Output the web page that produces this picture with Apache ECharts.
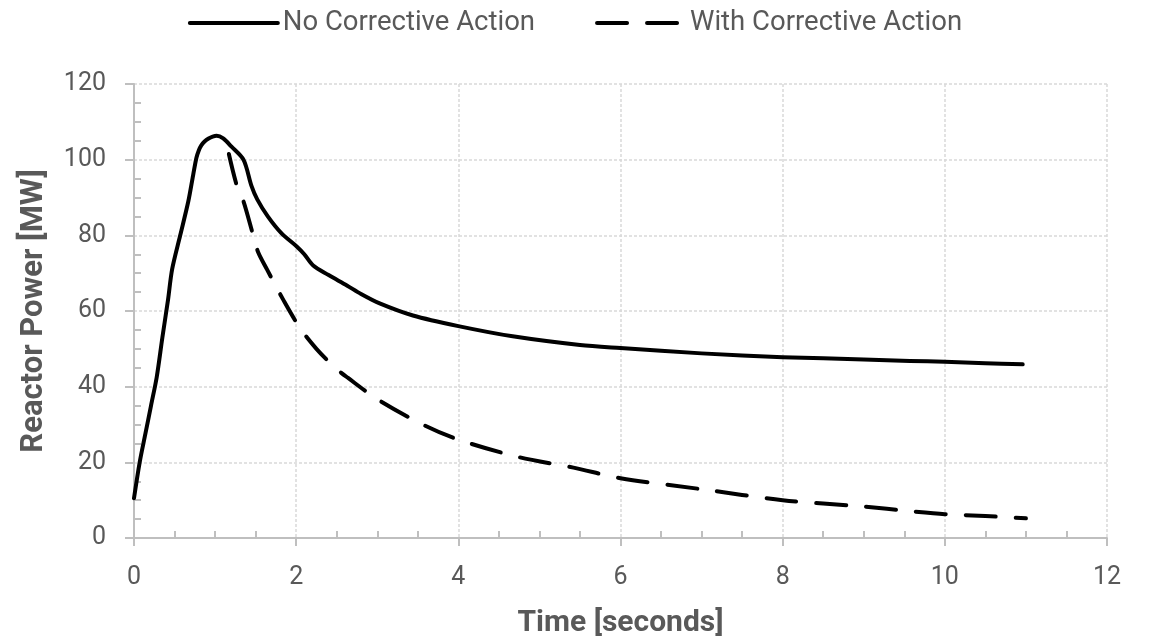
<!DOCTYPE html>
<html>
<head>
<meta charset="utf-8">
<script src="https://cdn.jsdelivr.net/npm/echarts@6/dist/echarts.min.js"></script>
<style>html,body{margin:0;padding:0;background:#fff}#c{width:1150px;height:643px}</style>
</head>
<body>
<div id="c"></div>
<script>
// Data
const seriesNames = ['No Corrective Action', 'With Corrective Action'];
const timeNo = [0, 0.07, 0.14, 0.21, 0.28, 0.35, 0.42, 0.47, 0.57, 0.67, 0.73, 0.77, 0.8, 0.83, 0.87, 0.92, 0.97, 1.02, 1.1, 1.2, 1.35, 1.45, 1.52, 1.65, 1.82, 2.01, 2.1, 2.21, 2.4, 2.63, 2.8, 3.03, 3.44, 4, 4.67, 5.5, 6, 7, 8, 9, 9.57, 10, 10.5, 10.96];
const powerNo = [10.5, 20, 27.5, 35, 42.5, 53, 63, 71, 80, 89, 96, 100.5, 102.5, 103.8, 104.8, 105.6, 106.1, 106.3, 105.6, 103.5, 100, 93, 89.5, 85, 80.5, 77, 75, 72, 69.5, 66.7, 64.5, 62, 58.8, 56, 53.3, 51, 50.2, 48.8, 47.8, 47.2, 46.8, 46.6, 46.2, 45.9];
const timeWith = [1.17, 1.27, 1.35, 1.47, 1.53, 1.64, 1.84, 2.05, 2.25, 2.48, 2.64, 3.0, 3.56, 4, 4.76, 5.42, 6, 7, 8, 9, 9.57, 10, 10.5, 11];
const powerWith = [101.5, 93, 89, 80, 75.6, 71, 63, 55.4, 50, 45, 42.3, 36.7, 30, 26, 21.3, 18.6, 15.8, 12.9, 10, 8.3, 7.1, 6.3, 5.8, 5.2];
const xTicks = {min: 0, max: 12, interval: 2};
const yTicks = {min: 0, max: 120, interval: 20};
const xTitle = 'Time [seconds]';
const yTitle = 'Reactor Power [MW]';

const zip = (a, b) => a.map((v, i) => [v, b[i]]);
const FONT = 'Roboto';
const TXT = '#595959';
const AX = '#bfbfbf';
const DASH = [30, 20];

const chart = echarts.init(document.getElementById('c'), null, {renderer: 'canvas'});
chart.setOption({
  backgroundColor: '#fff',
  animation: false,
  textStyle: {fontFamily: FONT},
  legend: {
    top: 4, left: 'center',
    itemWidth: 88, itemHeight: 16, itemGap: 60,
    textStyle: {fontFamily: FONT, fontSize: 27.5, color: TXT},
    itemStyle: {opacity: 0},
    data: [
      {name: seriesNames[0], lineStyle: {width: 4, color: '#000', type: 'solid', cap: 'round'}},
      {name: seriesNames[1], lineStyle: {width: 4, color: '#000', type: DASH, cap: 'round'}}
    ]
  },
  grid: {left: 134, right: 43, top: 84, bottom: 102, containLabel: false},
  xAxis: [{
    type: 'value', min: xTicks.min, max: xTicks.max, interval: xTicks.interval,
    position: 'bottom',
    name: xTitle, nameLocation: 'middle', nameGap: 70,
    nameTextStyle: {fontFamily: FONT, fontSize: 30, fontWeight: 'bold', color: TXT},
    axisLine: {show: true, lineStyle: {color: AX, width: 2}},
    axisTick: {show: true, inside: false, length: 8, lineStyle: {color: AX, width: 2}},
    axisLabel: {fontFamily: FONT, fontSize: 25, color: TXT, margin: 27},
    splitLine: {show: true, lineStyle: {color: '#d9d9d9', width: 1.5, type: [3, 2]}}
  }, {
    type: 'value', min: xTicks.min, max: xTicks.max, interval: xTicks.interval,
    position: 'bottom',
    axisLine: {show: false},
    axisTick: {show: false, inside: true},
    minorTick: {show: true, splitNumber: 4, length: 7, lineStyle: {color: AX, width: 2}},
    axisLabel: {show: false},
    splitLine: {show: false}
  }],
  yAxis: [{
    type: 'value', min: yTicks.min, max: yTicks.max, interval: yTicks.interval,
    position: 'left',
    name: yTitle, nameLocation: 'middle', nameGap: 84, nameRotate: 90,
    nameTextStyle: {fontFamily: FONT, fontSize: 31, fontWeight: 'bold', color: TXT},
    axisLine: {show: true, lineStyle: {color: AX, width: 2}},
    axisTick: {show: true, inside: false, length: 9, lineStyle: {color: AX, width: 2}},
    axisLabel: {fontFamily: FONT, fontSize: 25, color: TXT, margin: 28},
    splitLine: {show: true, lineStyle: {color: '#d9d9d9', width: 1.5, type: [3, 2]}}
  }, {
    type: 'value', min: yTicks.min, max: yTicks.max, interval: yTicks.interval,
    position: 'left',
    axisLine: {show: false},
    axisTick: {show: false, inside: true},
    minorTick: {show: true, splitNumber: 4, length: 7, lineStyle: {color: AX, width: 2}},
    axisLabel: {show: false},
    splitLine: {show: false}
  }],
  series: [{
    name: seriesNames[0], type: 'line', xAxisIndex: 0, yAxisIndex: 0,
    data: zip(timeNo, powerNo), smooth: 0.3,
    symbol: 'none', showSymbol: false,
    lineStyle: {color: '#000', width: 4, cap: 'round', join: 'round'},
    itemStyle: {color: '#000'}
  }, {
    name: seriesNames[1], type: 'line', xAxisIndex: 0, yAxisIndex: 0,
    data: zip(timeWith, powerWith), smooth: 0.3,
    symbol: 'none', showSymbol: false,
    lineStyle: {color: '#000', width: 4, type: DASH, cap: 'round', join: 'round'},
    itemStyle: {color: '#000'}
  }]
});
</script>
</body>
</html>
